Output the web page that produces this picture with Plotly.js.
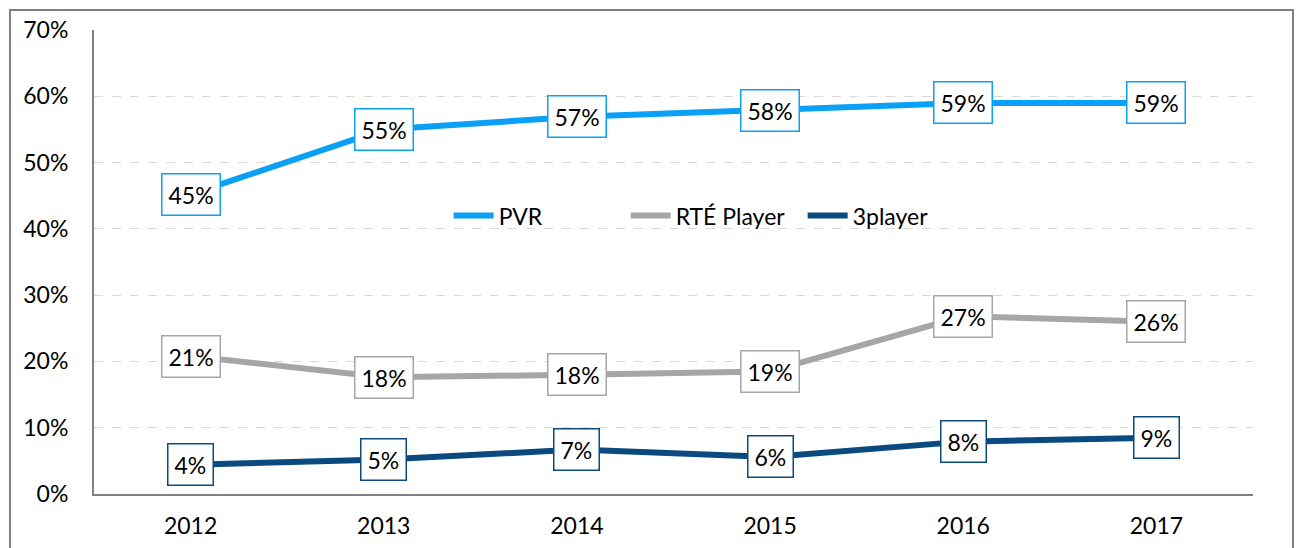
<!DOCTYPE html>
<html>
<head>
<meta charset="utf-8">
<script src="https://cdn.plot.ly/plotly-3.0.1.min.js"></script>
<style>
html,body{margin:0;padding:0;background:#fff;}
#chart{width:1300px;height:548px;}
</style>
</head>
<body>
<div id="chart"></div>
<script>
var years = ["2012", "2013", "2014", "2015", "2016", "2017"];
var pvr = [45.2, 55.0, 56.9, 57.9, 59.0, 59.0];
var rte = [20.8, 17.6, 18.0, 18.5, 26.8, 26.0];
var threePlayer = [4.4, 5.2, 6.7, 5.6, 7.9, 8.5];
var pvrLabels = ["45%", "55%", "57%", "58%", "59%", "59%"];
var rteLabels = ["21%", "18%", "18%", "19%", "27%", "26%"];
var threeLabels = ["4%", "5%", "7%", "6%", "8%", "9%"];
var yTickVals = [0, 10, 20, 30, 40, 50, 60, 70];
var yTickText = ["0%", "10%", "20%", "30%", "40%", "50%", "60%", "70%"];

var series = [
  {name: "PVR", y: pvr, labels: pvrLabels, color: "#0AA0F5"},
  {name: "RTÉ Player", y: rte, labels: rteLabels, color: "#A6A6A6"},
  {name: "3player", y: threePlayer, labels: threeLabels, color: "#0B4A7E"}
];

var FONT = "Lato, 'Open Sans', sans-serif";
var FS = 23;

var traces = series.map(function (s) {
  return {
    type: "scatter",
    mode: "lines",
    name: s.name,
    x: years,
    y: s.y,
    line: {color: s.color, width: 6},
    hoverinfo: "skip"
  };
});

var annotations = [];
series.forEach(function (s) {
  s.y.forEach(function (v, i) {
    annotations.push({
      x: i, y: v, xref: "x", yref: "y",
      text: s.labels[i], showarrow: false,
      font: {family: FONT, size: FS, color: "#000"},
      bgcolor: "#fff", bordercolor: s.color, borderwidth: 1.5, borderpad: 6
    });
  });
});

var layout = {
  width: 1300, height: 548,
  margin: {l: 94, r: 47, t: 30, b: 54},
  paper_bgcolor: "#fff", plot_bgcolor: "#fff",
  font: {family: FONT, size: FS, color: "#000"},
  showlegend: true,
  legend: {
    orientation: "h", x: 0.306, y: 0.6, xanchor: "left", yanchor: "middle",
    font: {family: FONT, size: FS, color: "#000"},
    bgcolor: "rgba(0,0,0,0)", itemwidth: 40, tracegroupgap: 0,
    entrywidth: 122, entrywidthmode: "pixels"
  },
  xaxis: {
    type: "category", range: [-0.5, 5.5],
    showgrid: false, zeroline: false,
    showline: true, linecolor: "#808080", linewidth: 2,
    ticks: "", ticklabelstandoff: 10,
    tickfont: {family: FONT, size: FS, color: "#000"}
  },
  yaxis: {
    range: [0, 70], tickvals: yTickVals, ticktext: yTickText,
    showgrid: true, gridcolor: "#D9D9D9", griddash: "dash", gridwidth: 1,
    zeroline: false, showline: true, linecolor: "#808080", linewidth: 2,
    ticks: "", ticklabelstandoff: 19,
    tickfont: {family: FONT, size: FS, color: "#000"}
  },
  annotations: annotations,
  shapes: [{
    type: "rect", xref: "paper", yref: "paper",
    x0: (10 - 94) / 1159, x1: (1293 - 94) / 1159,
    y0: -0.2, y1: (494 - 10) / 464,
    line: {color: "#808080", width: 2}, fillcolor: "rgba(0,0,0,0)", layer: "below"
  }]
};

Plotly.newPlot("chart", traces, layout, {displayModeBar: false, staticPlot: true});
</script>
</body>
</html>
